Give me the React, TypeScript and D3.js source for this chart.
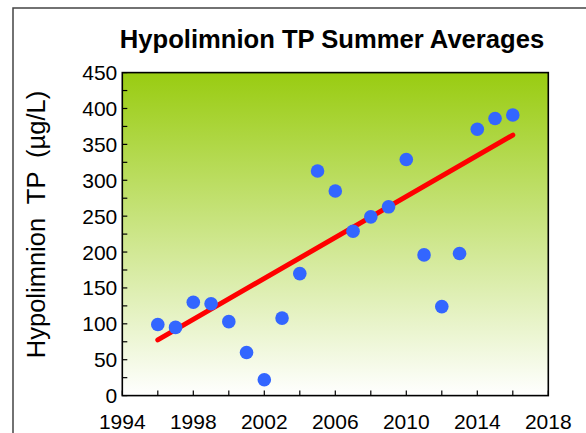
import React from "react";
import * as d3 from "d3";

const years = [1996, 1997, 1998, 1999, 2000, 2001, 2002, 2003, 2004, 2005, 2006, 2007, 2008, 2009, 2010, 2011, 2012, 2013, 2014, 2015, 2016];
const tpValues = [99, 95, 130, 128, 103, 60, 22, 108, 170, 313, 285, 229, 249, 263, 329, 196, 124, 198, 371, 386, 391];
const trendYears = [1996, 2016];
const trendValues = [77.6, 363];
const xTickLabels = [1994, 1998, 2002, 2006, 2010, 2014, 2018];
const xMinorTicks = [1994, 1996, 1998, 2000, 2002, 2004, 2006, 2008, 2010, 2012, 2014, 2016, 2018];
const yTickLabels = [0, 50, 100, 150, 200, 250, 300, 350, 400, 450];
const yMinorTicks = d3.range(0, 451, 25);

const W = 586, H = 433;
const L = 122.3, R = 548.3, T = 72.6, B = 395.6;
const FONT = "'Liberation Sans', Arial, sans-serif";

export default function App() {
  const x = d3.scaleLinear().domain([1994, 2018]).range([L, R]);
  const y = d3.scaleLinear().domain([0, 450]).range([B, T]);
  const line = d3.line<number>().x((d, i) => x(trendYears[i])).y((d) => y(d));
  return (
    <svg width={W} height={H} style={{ position: "absolute", left: 0, top: 0, display: "block" }}>
      <defs>
        <linearGradient id="bg" x1="0" y1="0" x2="0" y2="1">
          <stop offset="0" stopColor="#99CC11" />
          <stop offset="1" stopColor="#FFFFFF" />
        </linearGradient>
      </defs>
      <rect x={0} y={0} width={W} height={H} fill="#fff" />
      <rect x={13} y={8} width={620} height={500} fill="#fff" stroke="#444" strokeWidth={1.5} />
      <text x={332} y={47.5} textAnchor="middle" fontFamily={FONT} fontWeight="bold" fontSize={25.6} fill="#000">
        Hypolimnion TP Summer Averages
      </text>
      <rect x={L} y={T} width={R - L} height={B - T} fill="url(#bg)" />
      {yMinorTicks.map((v) => (
        <line key={"yt" + v} x1={L} x2={L + 5} y1={y(v)} y2={y(v)} stroke="#000" strokeWidth={1.2} />
      ))}
      {xMinorTicks.map((v) => (
        <line key={"xt" + v} x1={x(v)} x2={x(v)} y1={B} y2={B - 5} stroke="#000" strokeWidth={1.2} />
      ))}
      <rect x={L} y={T} width={R - L} height={B - T} fill="none" stroke="#000" strokeWidth={1.6} />
      {yTickLabels.map((v) => (
        <text key={"yl" + v} x={L - 5} y={y(v)} dy="0.36em" textAnchor="end" fontFamily={FONT} fontSize={21} fill="#000">
          {v}
        </text>
      ))}
      {xTickLabels.map((v) => (
        <text key={"xl" + v} x={x(v)} y={429} textAnchor="middle" fontFamily={FONT} fontSize={21} fill="#000">
          {v}
        </text>
      ))}
      <text
        transform="translate(45,224.5) rotate(-90)"
        textAnchor="middle"
        fontFamily={FONT}
        fontSize={25.5}
        fill="#000"
        style={{ whiteSpace: "pre" }}
      >
        {"Hypolimnion  TP  (µg/L)"}
      </text>
      <path d={line(trendValues) || ""} fill="none" stroke="#FF0000" strokeWidth={5} strokeLinecap="round" />
      {years.map((yr, i) => (
        <circle key={yr} cx={x(yr)} cy={y(tpValues[i])} r={6.8} fill="#3366FF" />
      ))}
    </svg>
  );
}
